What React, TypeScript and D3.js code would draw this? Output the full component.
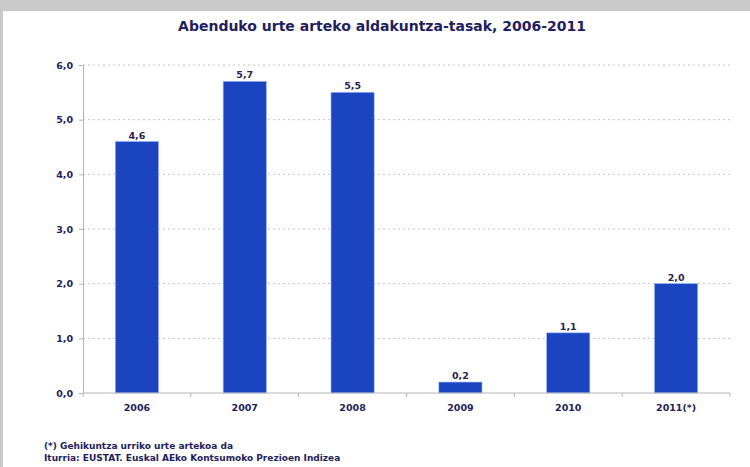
import React, { useEffect, useRef } from 'react';
import * as d3 from 'd3';

const years = ['2006', '2007', '2008', '2009', '2010', '2011(*)'];
const rates = [4.6, 5.7, 5.5, 0.2, 1.1, 2.0];
const yTicks = [0, 1, 2, 3, 4, 5, 6];
const notes = [
  '(*) Gehikuntza urriko urte artekoa da',
  'Iturria: EUSTAT. Euskal AEko Kontsumoko Prezioen Indizea',
];

const W = 750;
const H = 467;
const FONT = '"DejaVu Sans", Verdana, sans-serif';
const NAVY = '#221d5c';

const App: React.FC = () => {
  const svgRef = useRef<SVGSVGElement>(null);

  useEffect(() => {
    // no page margin, no scrollbars
    document.body.style.margin = '0';
    document.body.style.overflow = 'hidden';
    document.documentElement.style.overflow = 'hidden';

    if (!svgRef.current) return;
    const svg = d3.select(svgRef.current);
    svg.selectAll('*').remove();

    const left = 83, right = 730, top = 65, bottom = 393;
    const fmt = (v: number) => d3.format('.1f')(v).replace('.', ',');

    // background + panel
    svg.append('rect').attr('width', W).attr('height', H).attr('fill', '#c9c9c9');
    svg.append('rect').attr('x', 3).attr('y', 11).attr('width', W - 3).attr('height', H - 11).attr('fill', '#ffffff');

    const x = d3.scaleBand().domain(years).range([left, right]).paddingInner(0.6).paddingOuter(0.3);
    const y = d3.scaleLinear().domain([0, 6]).range([bottom, top]);

    // title
    svg.append('text')
      .attr('x', 382).attr('y', 31)
      .attr('text-anchor', 'middle')
      .style('font', `bold 14px ${FONT}`)
      .attr('fill', NAVY)
      .text('Abenduko urte arteko aldakuntza-tasak, 2006-2011');

    // grid
    svg.append('g')
      .selectAll('line')
      .data(yTicks.filter(d => d > 0))
      .join('line')
      .attr('x1', left).attr('x2', right)
      .attr('y1', d => y(d)).attr('y2', d => y(d))
      .attr('stroke', '#c4c4c4')
      .attr('stroke-width', 1)
      .attr('stroke-dasharray', '2,3');

    // y axis
    const yAxis = svg.append('g')
      .attr('transform', `translate(${left},0)`)
      .call(d3.axisLeft(y).tickValues(yTicks).tickSize(4).tickPadding(6).tickFormat(d => fmt(+d)));
    yAxis.select('.domain').attr('stroke', '#b5b5b5');
    yAxis.selectAll('.tick line').attr('stroke', '#b5b5b5');
    yAxis.selectAll('.tick text')
      .style('font', `bold 9.5px ${FONT}`)
      .attr('fill', NAVY);

    // bars
    svg.append('g')
      .selectAll('rect')
      .data(years)
      .join('rect')
      .attr('x', d => x(d)!)
      .attr('y', (d, i) => y(rates[i]))
      .attr('width', x.bandwidth())
      .attr('height', (d, i) => y(0) - y(rates[i]))
      .attr('fill', '#1b45c0')
      .attr('stroke', '#8fb0ff')
      .attr('stroke-width', 0.6);

    // value labels
    svg.append('g')
      .selectAll('text')
      .data(years)
      .join('text')
      .attr('x', d => x(d)! + x.bandwidth() / 2)
      .attr('y', (d, i) => y(rates[i]) - 3)
      .attr('text-anchor', 'middle')
      .style('font', `bold 9.5px ${FONT}`)
      .attr('fill', '#2c1f4e')
      .text((d, i) => fmt(rates[i]));

    // x axis
    const step = (right - left) / years.length;
    const xg = svg.append('g');
    xg.append('line')
      .attr('x1', left).attr('x2', right)
      .attr('y1', bottom).attr('y2', bottom)
      .attr('stroke', '#b5b5b5');
    xg.selectAll('line.tk')
      .data(d3.range(years.length + 1))
      .join('line')
      .attr('class', 'tk')
      .attr('x1', i => left + i * step).attr('x2', i => left + i * step)
      .attr('y1', bottom).attr('y2', bottom + 4)
      .attr('stroke', '#b5b5b5');
    xg.selectAll('text')
      .data(years)
      .join('text')
      .attr('x', d => x(d)! + x.bandwidth() / 2)
      .attr('y', bottom + 18)
      .attr('text-anchor', 'middle')
      .style('font', `bold 9.5px ${FONT}`)
      .attr('fill', NAVY)
      .text(d => d);

    // footnotes
    svg.append('g')
      .selectAll('text')
      .data(notes)
      .join('text')
      .attr('x', 44)
      .attr('y', (d, i) => 449 + i * 11.5)
      .style('font', `bold 9px ${FONT}`)
      .attr('fill', NAVY)
      .text(d => d);
  }, []);

  return <svg ref={svgRef} width={W} height={H} style={{ display: 'block' }} />;
};

export default App;
